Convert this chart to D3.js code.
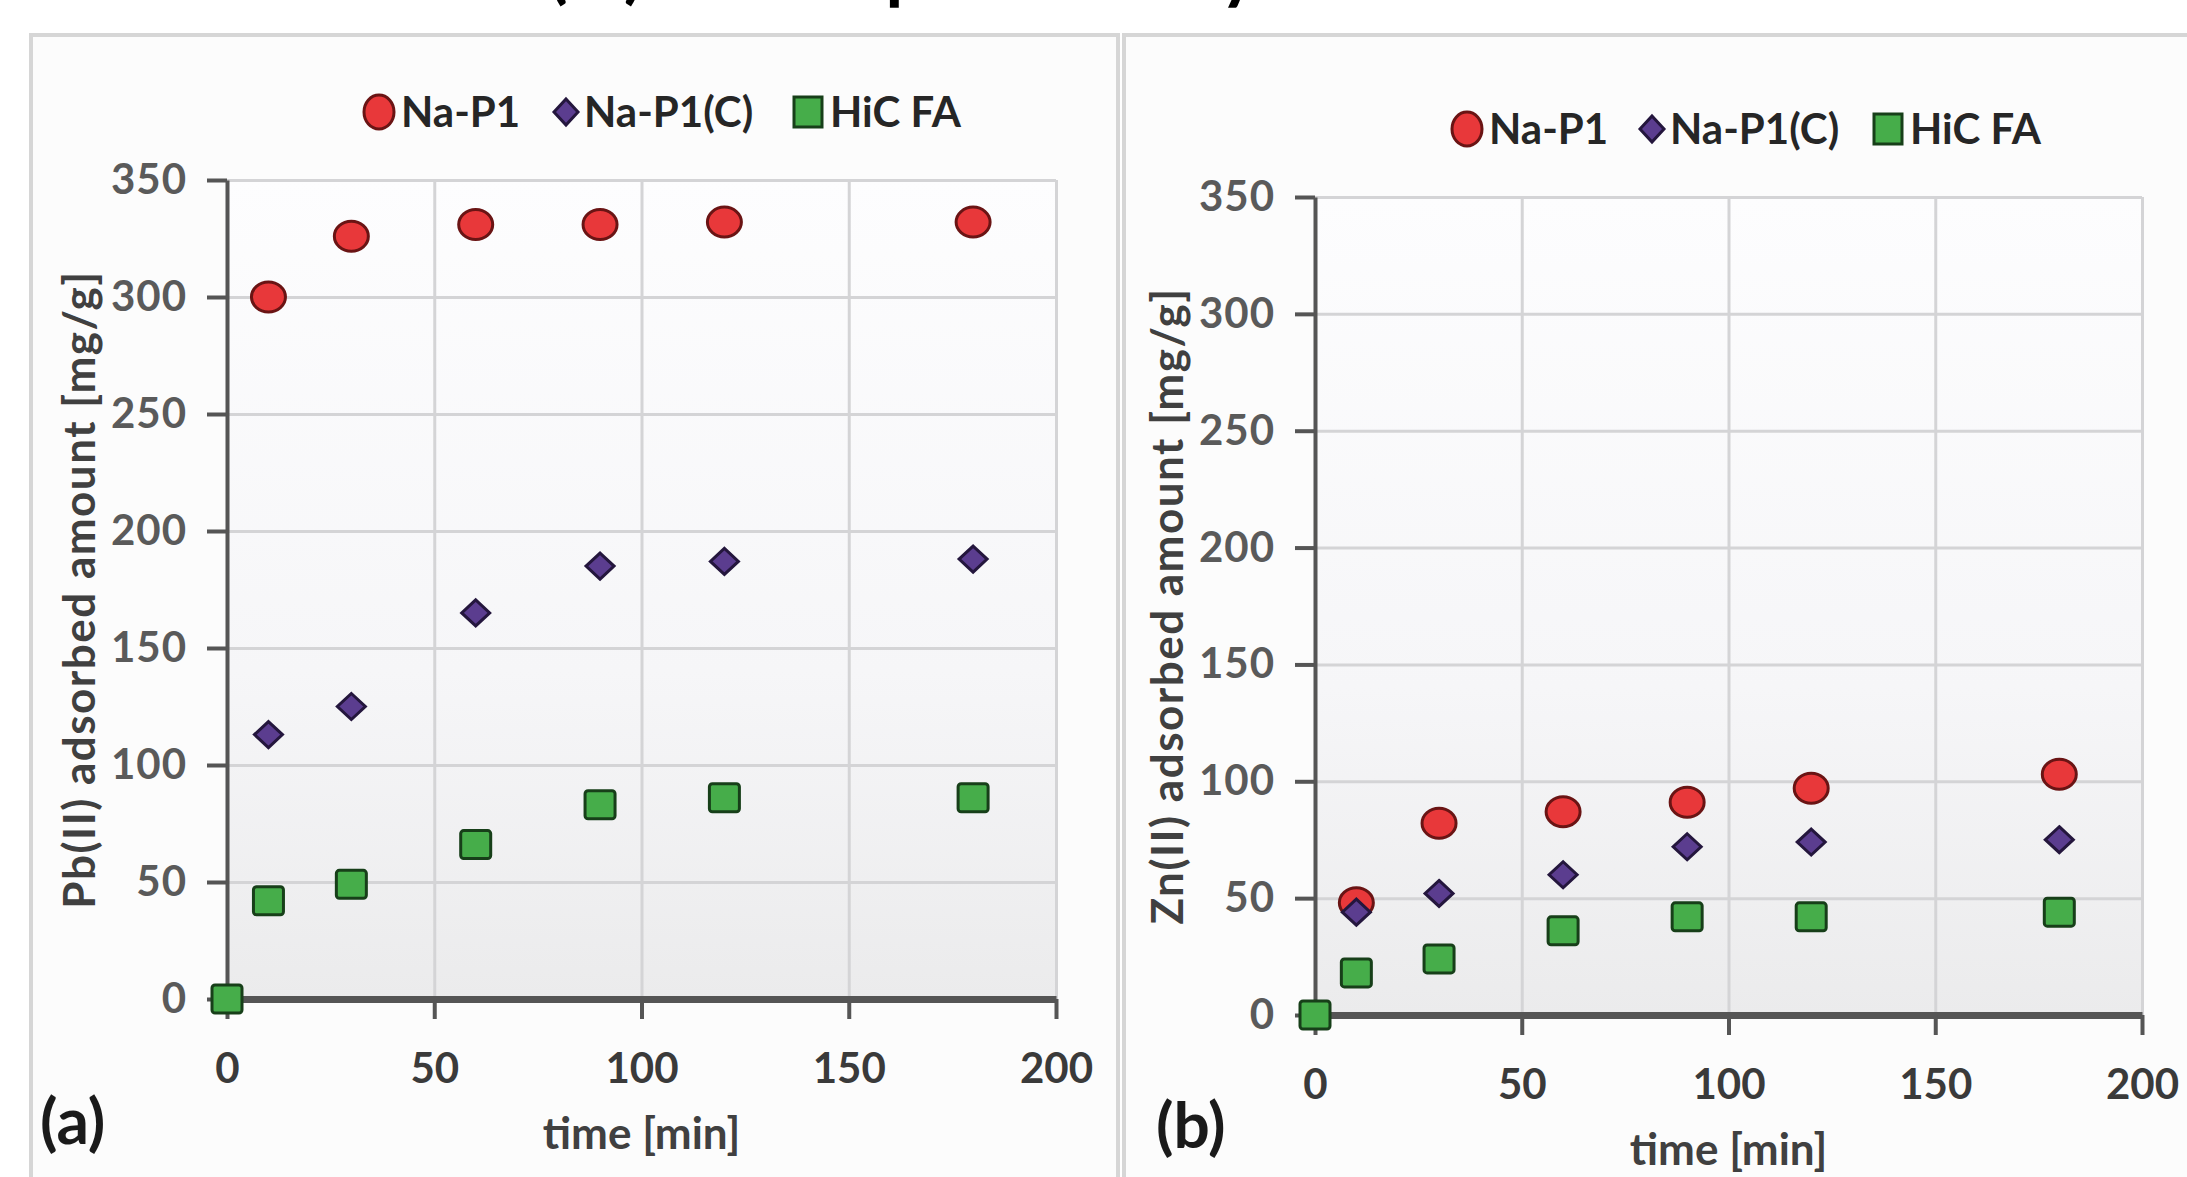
<!DOCTYPE html>
<html>
<head>
<meta charset="utf-8">
<script src="https://cdn.jsdelivr.net/npm/d3@7"></script>
<style>
  body { margin: 0; background: #fff; }
  svg text { font-family: Lato, "Open Sans", sans-serif; }
</style>
</head>
<body>
<div id="chart"></div>
<script>
// values
const seriesNames = ["Na-P1", "Na-P1(C)", "HiC FA"];
const times = [10, 30, 60, 90, 120, 180];
const hicTimes = [0, 10, 30, 60, 90, 120, 180];

const pbNaP1 = [300, 326, 331, 331, 332, 332];
const pbNaP1C = [113, 125, 165, 185, 187, 188];
const pbHicFA = [0, 42, 49, 66, 83, 86, 86];

const znNaP1 = [48, 82, 87, 91, 97, 103];
const znNaP1C = [44, 52, 60, 72, 74, 75];
const znHicFA = [0, 18, 24, 36, 42, 42, 44];

const xTicks = [0, 50, 100, 150, 200];
const yTicks = [0, 50, 100, 150, 200, 250, 300, 350];

const W = 2187, H = 1177;

let svg = d3.select("#chart").append("svg")
  .attr("width", W)
  .attr("height", H);

let defs = svg.append("defs");
let grad = defs.append("linearGradient")
  .attr("id", "plotbg")
  .attr("x1", 0).attr("y1", 0).attr("x2", 0).attr("y2", 1);
grad.append("stop").attr("offset", "0%").attr("stop-color", "#fdfdfe");
grad.append("stop").attr("offset", "60%").attr("stop-color", "#f6f6f8");
grad.append("stop").attr("offset", "100%").attr("stop-color", "#ebebec");

// heading, cropped at the top edge in the original (only descenders show)
let head = svg.append("text")
  .attr("x", 548)
  .attr("y", -5)
  .attr("font-size", 72)
  .attr("font-weight", 700)
  .attr("letter-spacing", 3)
  .attr("fill", "#000");
head.append("tspan").text("(A)");
head.append("tspan").attr("dx", 34).text("Adsorption");
head.append("tspan").attr("dx", 0).text("study");

// two chart frames
svg.append("rect")
  .attr("x", 31).attr("y", 35)
  .attr("width", 1087).attr("height", H)
  .attr("fill", "#fcfcfc")
  .attr("stroke", "#d6d6d6").attr("stroke-width", 4);
svg.append("rect")
  .attr("x", 1124).attr("y", 35)
  .attr("width", W).attr("height", H)
  .attr("fill", "#fcfcfc")
  .attr("stroke", "#d6d6d6").attr("stroke-width", 4);

function drawPanel(p) {
  let x = d3.scaleLinear().domain([0, 200]).range([p.x0, p.x1]);
  let y = d3.scaleLinear().domain([0, 350]).range([p.y0, p.y1]);
  let g = svg.append("g");

  g.append("rect")
    .attr("x", p.x0).attr("y", p.y1)
    .attr("width", p.x1 - p.x0).attr("height", p.y0 - p.y1)
    .attr("fill", "url(#plotbg)");

  // gridlines
  g.append("g")
    .attr("transform", "translate(" + p.x0 + ",0)")
    .call(d3.axisLeft(y).tickValues(yTicks).tickSize(-(p.x1 - p.x0)).tickFormat(""))
    .call(s => s.select(".domain").remove())
    .call(s => s.selectAll("line").attr("stroke", "#d4d4d6").attr("stroke-width", 3));
  g.append("g")
    .attr("transform", "translate(0," + p.y0 + ")")
    .call(d3.axisBottom(x).tickValues(xTicks).tickSize(-(p.y0 - p.y1)).tickFormat(""))
    .call(s => s.select(".domain").remove())
    .call(s => s.selectAll("line").attr("stroke", "#d4d4d6").attr("stroke-width", 3));

  // axes
  let ya = g.append("g")
    .attr("transform", "translate(" + p.x0 + ",0)")
    .call(d3.axisLeft(y).tickValues(yTicks).tickSize(20).tickSizeOuter(0).tickPadding(20));
  ya.select(".domain").attr("stroke", "#555").attr("stroke-width", 4);
  ya.selectAll(".tick line").attr("stroke", "#555").attr("stroke-width", 4);
  ya.selectAll(".tick text")
    .attr("font-size", 42).attr("font-weight", 700).attr("fill", "#5a5a5a")
    .attr("letter-spacing", 1)
    .attr("font-family", "Lato, sans-serif");

  let xa = g.append("g")
    .attr("transform", "translate(0," + p.y0 + ")")
    .call(d3.axisBottom(x).tickValues(xTicks).tickSize(20).tickSizeOuter(0).tickPadding(34));
  xa.select(".domain").attr("stroke", "#555").attr("stroke-width", 7);
  xa.selectAll(".tick line").attr("stroke", "#555").attr("stroke-width", 4);
  xa.selectAll(".tick text")
    .attr("font-size", 42).attr("font-weight", 700).attr("fill", "#3a3a3a")
    .attr("font-family", "Lato, sans-serif");

  // axis titles
  g.append("text")
    .attr("x", (p.x0 + p.x1) / 2)
    .attr("y", p.y0 + 150)
    .attr("text-anchor", "middle")
    .attr("font-size", 44).attr("font-weight", 700).attr("fill", "#404040")
    .text("time [min]");
  g.append("text")
    .attr("transform", "translate(" + (p.x0 - 132) + "," + ((p.y0 + p.y1) / 2) + ") rotate(-90)")
    .attr("text-anchor", "middle")
    .attr("font-size", 44).attr("font-weight", 700).attr("fill", "#404040")
    .attr("letter-spacing", 1.5)
    .text(p.yTitle);

  // panel label
  g.append("text")
    .attr("x", p.labelX).attr("y", p.labelY)
    .attr("font-size", 64).attr("font-weight", 700).attr("fill", "#1a1a1a")
    .text(p.label);

  // markers
  g.selectAll(".c")
    .data(times.map((t, i) => [t, p.a[i]]))
    .enter().append("ellipse")
    .attr("cx", d => x(d[0])).attr("cy", d => y(d[1]))
    .attr("rx", 17).attr("ry", 15)
    .attr("fill", "#e8383a").attr("stroke", "#6a1414").attr("stroke-width", 3);
  g.selectAll(".d")
    .data(times.map((t, i) => [t, p.b[i]]))
    .enter().append("path")
    .attr("d", "M0,-13L14,0L0,13L-14,0Z")
    .attr("transform", d => "translate(" + x(d[0]) + "," + y(d[1]) + ")")
    .attr("fill", "#5b3d8f").attr("stroke", "#24163d").attr("stroke-width", 3);
  g.selectAll(".s")
    .data(hicTimes.map((t, i) => [t, p.c[i]]))
    .enter().append("rect")
    .attr("x", d => x(d[0]) - 15).attr("y", d => y(d[1]) - 14)
    .attr("width", 30).attr("height", 28).attr("rx", 3)
    .attr("fill", "#46ad4a").attr("stroke", "#173f19").attr("stroke-width", 3);

  // legend
  let lg = g.append("g").attr("transform", "translate(" + (p.x0 + 152) + "," + (p.y1 - 68) + ")");
  lg.append("ellipse").attr("cx", 0).attr("cy", 0).attr("rx", 15).attr("ry", 17)
    .attr("fill", "#e8383a").attr("stroke", "#6a1414").attr("stroke-width", 3);
  lg.append("text").attr("x", 22).attr("y", 15)
    .attr("font-size", 42).attr("font-weight", 700).attr("fill", "#262626")
    .text(seriesNames[0]);
  lg.append("path").attr("d", "M0,-13L12,0L0,13L-12,0Z")
    .attr("transform", "translate(" + p.legDx[0] + ",0)")
    .attr("fill", "#5b3d8f").attr("stroke", "#24163d").attr("stroke-width", 3);
  lg.append("text").attr("x", p.legDx[0] + 18).attr("y", 15)
    .attr("font-size", 42).attr("font-weight", 700).attr("fill", "#262626")
    .text(seriesNames[1]);
  lg.append("rect").attr("x", p.legDx[1] - 14).attr("y", -15)
    .attr("width", 28).attr("height", 30)
    .attr("fill", "#46ad4a").attr("stroke", "#173f19").attr("stroke-width", 3);
  lg.append("text").attr("x", p.legDx[1] + 22).attr("y", 15)
    .attr("font-size", 42).attr("font-weight", 700).attr("fill", "#262626")
    .text(seriesNames[2]);
}

drawPanel({
  x0: 227, x1: 1056, y0: 999, y1: 180,
  a: pbNaP1, b: pbNaP1C, c: pbHicFA,
  yTitle: "Pb(II) adsorbed amount [mg/g]",
  label: "(a)", labelX: 40, labelY: 1144,
  legDx: [187, 429]
});

drawPanel({
  x0: 1315, x1: 2142, y0: 1015, y1: 197,
  a: znNaP1, b: znNaP1C, c: znHicFA,
  yTitle: "Zn(II) adsorbed amount [mg/g]",
  label: "(b)", labelX: 1156, labelY: 1148,
  legDx: [185, 421]
});
</script>
</body>
</html>
